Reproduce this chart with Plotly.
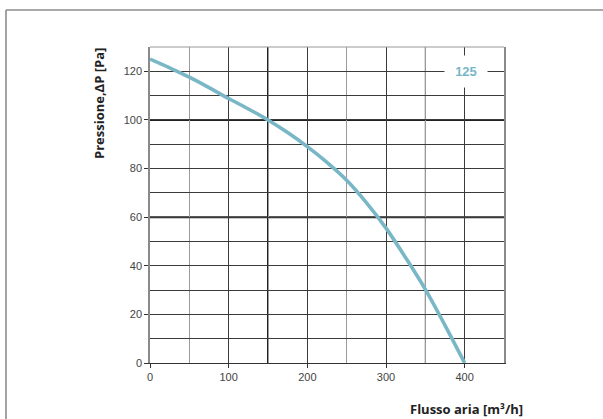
import plotly.graph_objects as go

# Data
flow = [0, 25, 50, 75, 100, 125, 150, 175, 200, 225, 250, 275, 300, 325, 350, 375, 400]
pressure = [125, 121.4, 117.6, 113.3, 108.8, 104.5, 100, 94.8, 89, 82.5, 75.2, 66, 55.5, 43.3, 30.3, 15.5, 0]
series_name = "125"
x_ticks = [0, 100, 200, 300, 400]
y_ticks = [0, 20, 40, 60, 80, 100, 120]

curve_color = "#79b7c7"

fig = go.Figure()
fig.add_trace(go.Scatter(
    x=flow, y=pressure, mode="lines", line=dict(color=curve_color, width=3.6, shape="spline", smoothing=1.0),
    name=series_name, showlegend=False, hoverinfo="x+y"))

W, H = 603, 419
L, T = 150, 47
pw, ph = 354, 316
R, B = W - L - pw, H - T - ph

def px(xp):
    return (xp - L) / pw

def py(yp):
    return (H - B - yp) / ph

shapes = []
# emphasized grid lines
shapes.append(dict(type="line", xref="x", yref="y", x0=150, x1=150, y0=0, y1=130,
                   line=dict(color="#222", width=2), layer="below"))
shapes.append(dict(type="line", xref="x", yref="y", x0=350, x1=350, y0=0, y1=130,
                   line=dict(color="#3a3a3a", width=1), layer="below"))
for yv in [100, 60]:
    shapes.append(dict(type="line", xref="x", yref="y", x0=0, x1=450, y0=yv, y1=yv,
                       line=dict(color="#222", width=2), layer="below"))
# top frame line
shapes.append(dict(type="line", xref="paper", yref="paper", x0=0, x1=1, y0=1, y1=1,
                   line=dict(color="#999", width=1)))
# outer border (only top and left visible)
shapes.append(dict(type="line", xref="paper", yref="paper", x0=px(6), x1=px(620), y0=py(10), y1=py(10),
                   line=dict(color="#8c8c8c", width=1.6)))
shapes.append(dict(type="line", xref="paper", yref="paper", x0=px(6), x1=px(6), y0=py(10), y1=py(440),
                   line=dict(color="#8c8c8c", width=1.6)))

annotations = [
    dict(x=px(99), y=py(104), xref="paper", yref="paper", text="<b>Pressione,ΔP [Pa]</b>",
         textangle=-90, showarrow=False, font=dict(family="Open Sans", size=13, color="#222"),
         xanchor="center", yanchor="middle"),
    dict(x=px(466), y=py(409), xref="paper", yref="paper", text="<b>Flusso aria [m³/h]</b>",
         showarrow=False, font=dict(family="Open Sans", size=13, color="#222"),
         xanchor="center", yanchor="middle"),
    dict(x=px(466), y=120, xref="paper", yref="y", text="<b>" + series_name + "</b>", showarrow=False,
         font=dict(family="Liberation Sans", size=13, color=curve_color),
         bgcolor="white", width=40, height=29, xanchor="center", yanchor="middle"),
]

fig.update_layout(
    width=W, height=H,
    margin=dict(l=L, r=R, t=T, b=B, autoexpand=False),
    paper_bgcolor="white", plot_bgcolor="white",
    showlegend=False,
    font=dict(family="Liberation Sans, Arial", size=11, color="#444"),
    shapes=shapes, annotations=annotations,
    xaxis=dict(range=[0, 450], tickvals=x_ticks, showgrid=True, gridcolor="#3a3a3a", gridwidth=1,
               minor=dict(dtick=50, showgrid=True, gridcolor="#9a9a9a", gridwidth=1),
               ticks="outside", ticklen=4, tickcolor="#333", showline=True, linecolor="#333", linewidth=1,
               zeroline=False, fixedrange=True, tickfont=dict(size=11, color="#444")),
    yaxis=dict(range=[0, 130], tickvals=y_ticks, showgrid=True, gridcolor="#3a3a3a", gridwidth=1,
               minor=dict(dtick=10, showgrid=True, gridcolor="#3a3a3a", gridwidth=1),
               ticks="outside", ticklen=4, tickcolor="#333", showline=True, linecolor="#8a8a8a", linewidth=1.5,
               mirror=True, zeroline=False, fixedrange=True, tickfont=dict(size=11, color="#444")),
)

fig.write_html("out.html", post_script="document.body.style.margin='0px';",
               config={"displayModeBar": False})
